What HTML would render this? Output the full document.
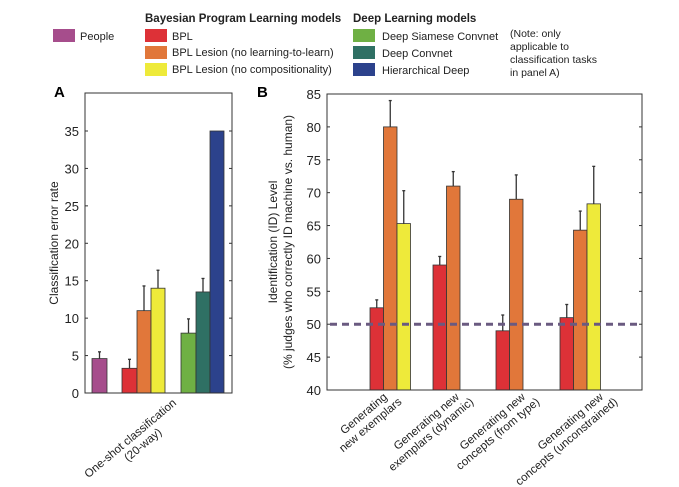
<!DOCTYPE html>
<html><head><meta charset="utf-8"><style>
html,body{margin:0;padding:0;background:#fff;}
svg{display:block;font-family:"Liberation Sans",Arial,sans-serif;}
</style></head><body>
<svg id="chart" width="679" height="487" viewBox="0 0 679 487">
<g font-size="11" fill="#222">
  <rect x="53" y="29" width="22" height="13" fill="#a64d8c"/>
  <text x="80" y="40">People</text>
  <text x="145" y="22" font-weight="bold" font-size="11.5">Bayesian Program Learning models</text>
  <rect x="145" y="29" width="22" height="13" fill="#dd3137"/>
  <text x="172" y="40">BPL</text>
  <rect x="145" y="46" width="22" height="13" fill="#e1773a"/>
  <text x="172" y="56">BPL Lesion (no learning-to-learn)</text>
  <rect x="145" y="63" width="22" height="13" fill="#eeea3a"/>
  <text x="172" y="73">BPL Lesion (no compositionality)</text>
  <text x="353" y="22" font-weight="bold" font-size="11.5">Deep Learning models</text>
  <rect x="353" y="29" width="22" height="13" fill="#6fb044"/>
  <text x="382" y="40">Deep Siamese Convnet</text>
  <rect x="353" y="46" width="22" height="13" fill="#2f7064"/>
  <text x="382" y="57">Deep Convnet</text>
  <rect x="353" y="63" width="22" height="13" fill="#2c428c"/>
  <text x="382" y="74">Hierarchical Deep</text>
  <g font-size="10.5">
    <text x="510" y="37">(Note: only</text>
    <text x="510" y="50">applicable to</text>
    <text x="510" y="63">classification tasks</text>
    <text x="510" y="76">in panel A)</text>
  </g>
</g>
<text x="54" y="97" font-weight="bold" font-size="15">A</text>
<text x="257" y="97" font-weight="bold" font-size="15">B</text>
<g id="pa"></g>
<g id="pb"></g>
</svg>
<script>
// Panel A data
const aSeries = ["People","BPL","BPL Lesion (no learning-to-learn)","BPL Lesion (no compositionality)","Deep Siamese Convnet","Deep Convnet","Hierarchical Deep"];
const aValues = [4.6, 3.3, 11.0, 14.0, 8.0, 13.5, 35.0];
const aErrors = [5.5, 4.5, 14.3, 16.4, 9.9, 15.3, null];
const aTicks = [0,5,10,15,20,25,30,35];
// Panel B data
const bCategories = [["Generating","new exemplars"],["Generating new","exemplars (dynamic)"],["Generating new","concepts (from type)"],["Generating new","concepts (unconstrained)"]];
const bBPL = [52.5, 59.0, 49.0, 51.0];
const bBPLErr = [53.7, 60.3, 51.4, 53.0];
const bLesionLTL = [80.0, 71.0, 69.0, 64.3];
const bLesionLTLErr = [84.0, 73.2, 72.7, 67.2];
const bLesionComp = [65.3, null, null, 68.3];
const bLesionCompErr = [70.3, null, null, 74.0];
const bTicks = [40,45,50,55,60,65,70,75,80,85];
const chanceLevel = 50;

const NS="http://www.w3.org/2000/svg";
function mk(tag, attrs, parent){const e=document.createElementNS(NS,tag);for(const k in attrs)e.setAttribute(k,attrs[k]);parent.appendChild(e);return e;}
const colors=["#a64d8c","#dd3137","#e1773a","#eeea3a","#6fb044","#2f7064","#2c428c"];

// Panel A
const pa=document.getElementById('pa');
const aL=85,aR=232,aT=93,aB=393;
const ay=v=>aB-(v/35)*(aB-131);
let e;
aTicks.forEach((t)=>{
  e=mk('text',{x:aL-6,y:ay(t)+5,'text-anchor':'end','font-size':13,fill:'#222'},pa);e.textContent=t;
  
  
  mk('line',{x1:aL,x2:aL+3,y1:ay(t),y2:ay(t),stroke:'#333'},pa);
  mk('line',{x1:aR,x2:aR-3,y1:ay(t),y2:ay(t),stroke:'#333'},pa);
});
const aX=[92,122,137,151,181,196,210], aW=[15,15,14,14,15,14,14];
aValues.forEach((v,i)=>{
  e=mk('rect',{x:aX[i],y:ay(v),width:aW[i],height:aB-ay(v),fill:colors[i],stroke:'#333','stroke-width':0.8},pa);
  
  
  if(aErrors[i]!=null){
    const cx=aX[i]+aW[i]/2;
    mk('line',{x1:cx,x2:cx,y1:ay(v),y2:ay(aErrors[i]),stroke:'#333','stroke-width':1.3},pa);
    mk('line',{x1:cx-1.5,x2:cx+1.5,y1:ay(aErrors[i]),y2:ay(aErrors[i]),stroke:'#333','stroke-width':1.3},pa);
  }
});
e=mk('rect',{x:aL,y:aT,width:aR-aL,height:aB-aT,fill:'none',stroke:'#333','stroke-width':1},pa);


e=mk('text',{transform:'translate(58,243) rotate(-90)','text-anchor':'middle','font-size':12,fill:'#222'},pa);e.textContent='Classification error rate';


e=mk('g',{transform:'translate(177,404) rotate(-40)','font-size':11.5,fill:'#222','text-anchor':'end'},pa);


mk('text',{x:0,y:0},e).textContent='One-shot classification';
mk('text',{x:-30,y:13},e).textContent='(20-way)';

// Panel B
const pb=document.getElementById('pb');
const bL=327,bR=642,bT=94,bB=390;
const by=v=>bB-((v-40)/45)*(bB-bT);
bTicks.forEach(t=>{
  e=mk('text',{x:bL-6,y:by(t)+5,'text-anchor':'end','font-size':13,fill:'#222'},pb);e.textContent=t;
  
  
  mk('line',{x1:bL,x2:bL+3,y1:by(t),y2:by(t),stroke:'#333'},pb);
  mk('line',{x1:bR,x2:bR-3,y1:by(t),y2:by(t),stroke:'#333'},pb);
});
const gStart=[370,433,496,560], bw=13.5;
const labelEnd=[394,466,532,610];
const series=[[bBPL,bBPLErr,colors[1]],[bLesionLTL,bLesionLTLErr,colors[2]],[bLesionComp,bLesionCompErr,colors[3]]];
bCategories.forEach((c,g)=>{
  series.forEach((s,k)=>{
    const v=s[0][g]; if(v==null) return;
    const x=gStart[g]+k*bw;
    e=mk('rect',{x:x,y:by(v),width:bw,height:bB-by(v),fill:s[2],stroke:'#333','stroke-width':0.8},pb);
    
    
    const er=s[1][g], cx=x+bw/2;
    mk('line',{x1:cx,x2:cx,y1:by(v),y2:by(er),stroke:'#333','stroke-width':1.3},pb);
    mk('line',{x1:cx-1.5,x2:cx+1.5,y1:by(er),y2:by(er),stroke:'#333','stroke-width':1.3},pb);
  });
  e=mk('g',{transform:'translate('+labelEnd[g]+',393) rotate(-40)','font-size':11.5,fill:'#222','text-anchor':'end'},pb);
  
  
  mk('text',{x:-8,y:0},e).textContent=c[0];
  mk('text',{x:0,y:13},e).textContent=c[1];
});
e=mk('line',{x1:bL+3,x2:bR,y1:by(chanceLevel),y2:by(chanceLevel),stroke:'#6a5a80','stroke-width':3,'stroke-dasharray':'7,5'},pb);


e=mk('rect',{x:bL,y:bT,width:bR-bL,height:bB-bT,fill:'none',stroke:'#333','stroke-width':1},pb);


e=mk('g',{transform:'translate(277,242) rotate(-90)','text-anchor':'middle','font-size':12,fill:'#222'},pb);


mk('text',{x:0,y:0},e).textContent='Identification (ID) Level';
mk('text',{x:0,y:15},e).textContent='(% judges who correctly ID machine vs. human)';
</script>
</body></html>
